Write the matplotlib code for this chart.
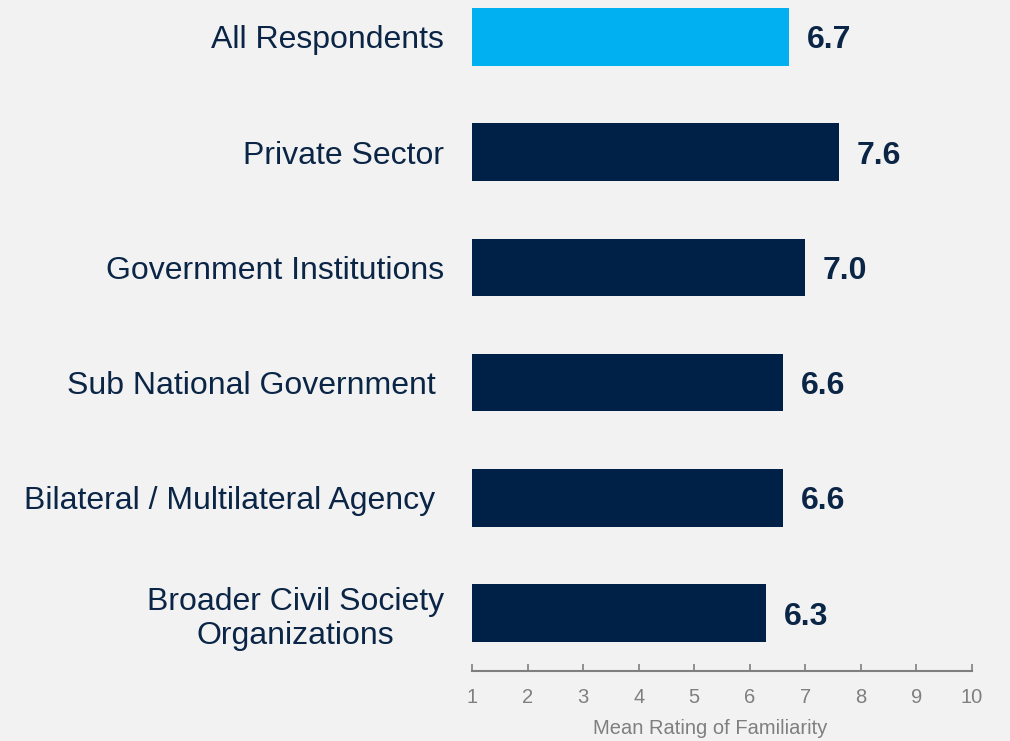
import numpy as np
import matplotlib
matplotlib.use('Agg')
import matplotlib.pyplot as plt

plt.rcParams['font.family'] = ['Liberation Sans', 'DejaVu Sans']

categories = ['All Respondents', 'Private Sector', 'Government Institutions',
              'Sub National Government ', 'Bilateral / Multilateral Agency ',
              'Broader Civil Society\nOrganizations']
values = [6.7, 7.6, 7.0, 6.6, 6.6, 6.3]
value_labels = ['6.7', '7.6', '7.0', '6.6', '6.6', '6.3']
ticks = list(range(1, 11))

bg = '#f2f2f2'
navy = '#002147'
cyan = '#00b0f0'
text_col = '#0b2546'
grey = '#7f7f7f'

fig = plt.figure(figsize=(10.1, 7.41), dpi=100, facecolor=bg)
ax = fig.add_axes([472 / 1010, 1 - 671 / 741, 500 / 1010, 671 / 741])
ax.set_facecolor(bg)

y = np.arange(len(categories))
colors = [cyan] + [navy] * (len(categories) - 1)
widths = [v - 1 for v in values]
ax.barh(y, widths, left=1, height=0.5, color=colors)

# value labels to the right of each bar
for yi, v, lab in zip(y, values, value_labels):
    ax.text(v + 0.32, yi, lab, ha='left', va='center_baseline', fontsize=23,
            fontweight='bold', color=text_col)

ax.set_xlim(1, 10)
ax.set_ylim(5.503, -0.321)
ax.set_xticks(ticks)
ax.set_xticklabels([str(t) for t in ticks])
ax.set_yticks(y)
ax.set_yticklabels(categories, fontsize=23, color=text_col, multialignment='center')
ax.tick_params(axis='y', length=0, pad=20)
ax.tick_params(axis='x', direction='in', length=5, width=1.2, color=grey,
               labelcolor=grey, labelsize=14.5, pad=12)

for s in ['top', 'right', 'left']:
    ax.spines[s].set_visible(False)
ax.spines['bottom'].set_color(grey)
ax.spines['bottom'].set_linewidth(1.5)

ax.set_xlabel('Mean Rating of Familiarity', fontsize=14.5, color=grey)
ax.xaxis.set_label_coords(0.476, -0.071)

fig.savefig('out.png', dpi=100, facecolor=bg)
